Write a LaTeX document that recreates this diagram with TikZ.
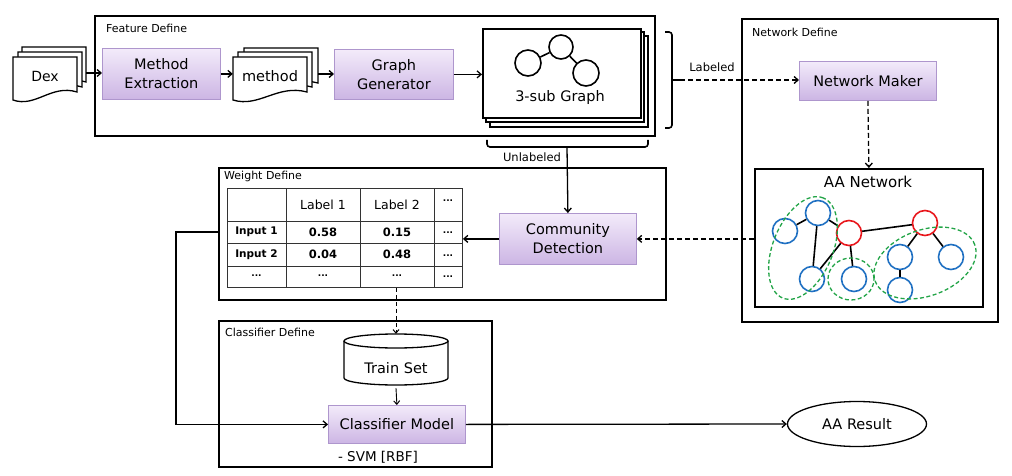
\documentclass[tikz,border=0pt]{standalone}
\usepackage{fontspec}
\setmainfont{DejaVu Sans}
\usetikzlibrary{arrows.meta,shapes.geometric,calc}
\definecolor{ptop}{HTML}{F3EBFA}
\definecolor{pbot}{HTML}{CCB5E4}
\definecolor{pbrd}{HTML}{AE96CD}
\definecolor{nblue}{HTML}{1F70C2}
\definecolor{nred}{HTML}{E8161B}
\definecolor{ngreen}{HTML}{22A447}
\definecolor{tline}{HTML}{333333}
\newcommand\myfs[2]{\fontsize{#1}{#2}\selectfont}
\newcommand\mydoc[4]{%
  \filldraw[fill=white, line width=1.3pt] (#1,#2) -- ({#1+#3},#2) -- ({#1+#3},{#2+#4-8})
    .. controls ({#1+0.6*#3},{#2+#4-16}) and ({#1+0.35*#3},{#2+#4+8}) .. (#1,{#2+#4}) -- cycle;}
\begin{document}
\begin{tikzpicture}[x=1pt,y=-1pt,
  frame/.style={draw, line width=1.8pt, anchor=north west, inner sep=0pt},
  pbox/.style={draw=pbrd, line width=0.8pt, top color=ptop, bottom color=pbot, anchor=north west,
     inner sep=0pt, align=center, font=\myfs{14.5}{19}},
  sect/.style={anchor=west, font=\myfs{11}{13}, inner sep=0pt},
  lbl/.style={font=\myfs{11.5}{13}, inner sep=0pt},
  arr/.style={-{Straight Barb[length=4pt,width=7pt,line width=1.3pt]}, line width=1.3pt},
  tarr/.style={-{Straight Barb[length=3.5pt,width=6pt,line width=1pt]}, line width=0.9pt},
  darr/.style={arr, dash pattern=on 5pt off 3pt},
  nb/.style={circle, draw=nblue, line width=1.6pt, minimum size=25pt, inner sep=0pt},
  nr/.style={nb, draw=nred},
  nedge/.style={line width=1.6pt},
  gell/.style={draw=ngreen, line width=1.3pt, dash pattern=on 4pt off 2.5pt},
  hd/.style={font=\myfs{12.5}{14}, inner sep=0pt},
  rh/.style={font=\bfseries\myfs{10.5}{12}, inner sep=0pt},
  num/.style={font=\bfseries\myfs{11.5}{13}, inner sep=0pt},
  dts/.style={font=\bfseries\myfs{9}{10}, inner sep=0pt}
]
\useasboundingbox (0,0) rectangle (1012,476);

% ---------- frames ----------
\node[frame, minimum width=560pt, minimum height=120pt] (fdef) at (94,15) {};
\node[frame, minimum width=256pt, minimum height=303pt] (ndef) at (741,18) {};
\node[frame, minimum width=447pt, minimum height=132pt] (wdef) at (218,167) {};
\node[frame, minimum width=273pt, minimum height=146pt] (cdef) at (218,320) {};
\node[sect] (fdl) at (106,28) {Feature Define};
\node[sect] (ndl) at (752,32) {Network Define};
\node[sect] (wdl) at (224,176) {Weight Define};
\node[sect] (cdl) at (225,332) {Classifier Define};

% ---------- Dex documents ----------
\mydoc{22}{47}{64}{43}
\mydoc{18}{52}{64}{43}
\mydoc{13}{57}{64}{43}
\node[minimum width=64pt, minimum height=36pt, inner sep=0pt, font=\myfs{14}{16}] (dex) at (45,76) {Dex};
\coordinate (dexR) at (86,73);

% ---------- method documents ----------
\mydoc{244}{48}{74}{43}
\mydoc{238}{52}{74}{43}
\mydoc{233}{57}{74}{43}
\node[minimum width=74pt, minimum height=36pt, inner sep=0pt, font=\myfs{14.5}{16}] (mth) at (270,76) {method};
\coordinate (mthR) at (318,74);

% ---------- purple boxes ----------
\node[pbox, minimum width=118pt, minimum height=51pt] (me) at (102,48) {Method\\Extraction};
\node[pbox, minimum width=119pt, minimum height=50pt] (gg) at (334,49) {Graph\\Generator};
\node[pbox, minimum width=137pt, minimum height=39pt] (nm) at (799,61) {Network Maker};
\node[pbox, minimum width=137pt, minimum height=51pt] (cd) at (499,213) {Community\\Detection};
\node[pbox, minimum width=137pt, minimum height=38pt] (cm) at (328,405) {Classifier Model};

% ---------- 3-sub graph stack ----------
\draw[line width=1.6pt, fill=white] (490,36) rectangle (648,127);
\draw[line width=1.6pt, fill=white] (486,32) rectangle (644,122);
\node[draw, fill=white, line width=1.6pt, anchor=north west, minimum width=158pt, minimum height=89pt, inner sep=0pt] (sg) at (482,28) {};
\node[circle, draw, line width=1.6pt, minimum size=26pt, inner sep=0pt] (g1) at (528,63) {};
\node[circle, draw, line width=1.6pt, minimum size=24pt, inner sep=0pt] (g2) at (561,47) {};
\node[circle, draw, line width=1.6pt, minimum size=26pt, inner sep=0pt] (g3) at (586,73) {};
\draw[line width=1.6pt] (g1) -- (g2) -- (g3);
\node[font=\myfs{14.5}{16}, inner sep=0pt] (sgt) at (560,98) {3-sub Graph};

% ---------- braces ----------
\draw[line width=1.6pt, rounded corners=3pt] (665,32) -- (672,32) -- (672,128) -- (665,128);
\coordinate (lab) at (672,80);
\draw[line width=1.6pt, rounded corners=3pt] (487,140) -- (487,147) -- (648,147) -- (648,140);
\coordinate (unl) at (567,147);
\node[lbl] (labt) at (712,67) {Labeled};
\node[lbl] (unlt) at (532,157) {Unlabeled};

% ---------- AA network ----------
\node[frame, minimum width=228pt, minimum height=138pt] (aanet) at (754,168) {};
\node[font=\myfs{15}{17}, inner sep=0pt] (aat) at (868,182) {AA Network};
\node[nb] (b1) at (785,231) {};
\node[nb] (b2) at (818,213) {};
\node[nr] (r1) at (849,233) {};
\node[nr] (r2) at (925,223) {};
\node[nb] (b3) at (812,279) {};
\node[nb] (b4) at (854,279) {};
\node[nb] (b5) at (900,257) {};
\node[nb] (b6) at (900,290) {};
\node[nb] (b7) at (951,257) {};
\draw[nedge] (b1) -- (b2);
\draw[nedge] (b2) -- (r1);
\draw[nedge] (b2) -- (b3);
\draw[nedge] (b3) -- (r1);
\draw[nedge] (r1) -- (b4);
\draw[nedge] (r1) -- (r2);
\draw[nedge] (r2) -- (b5);
\draw[nedge] (r2) -- (b7);
\draw[nedge] (b5) -- (b6);
\draw[gell, rotate around={68:(803,248)}] (803,248) ellipse[x radius=54pt, y radius=30pt];
\draw[gell] (851,279) ellipse[x radius=23pt, y radius=21pt];
\draw[gell, rotate around={20:(925,263)}] (925,263) ellipse[x radius=53pt, y radius=33pt];

% ---------- table ----------
\node[draw=tline, line width=0.9pt, anchor=north west, minimum width=235pt, minimum height=99pt, inner sep=0pt] (tbl) at (227,188) {};
\draw[tline, line width=0.9pt] (286,188) -- (286,287) (360,188) -- (360,287) (434,188) -- (434,287);
\draw[tline, line width=0.9pt] (227,221) -- (462,221) (227,243) -- (462,243) (227,266) -- (462,266);
\node[hd] (h1) at (323,205) {Label 1};
\node[hd] (h2) at (397,205) {Label 2};
\node[dts] (h3) at (448,201) {...};
\node[rh] (i1) at (256.5,232) {Input 1};
\node[rh] (i2) at (256.5,254.5) {Input 2};
\node[num] (v11) at (323,232) {0.58};
\node[num] (v12) at (397,232) {0.15};
\node[num] (v21) at (323,254.5) {0.04};
\node[num] (v22) at (397,254.5) {0.48};
\node[dts] (d13) at (448,233) {...};
\node[dts] (d23) at (448,256) {...};
\node[dts] (d30) at (256.5,276) {...};
\node[dts] (d31) at (323,276) {...};
\node[dts] (d32) at (397,276) {...};
\node[dts] (d33) at (448,277) {...};

% ---------- train set cylinder ----------
\node[minimum width=104pt, minimum height=54pt, inner sep=0pt] (ts) at (396,361) {};
\draw[line width=1.3pt, fill=white] (344,341) -- (344,378) arc[start angle=180, end angle=360, x radius=52pt, y radius=7pt] -- (448,341);
\draw[line width=1.3pt] (396,341) ellipse[x radius=52pt, y radius=7pt];
\node[font=\myfs{14.5}{16}, inner sep=0pt] (tst) at (396,368) {Train Set};
\node[font=\myfs{13.5}{15}, inner sep=0pt] (svm) at (378,457) {- SVM [RBF]};

% ---------- result ----------
\node[ellipse, draw, line width=1.3pt, minimum width=139pt, minimum height=45pt, inner sep=0pt, font=\myfs{14.5}{16}] (aar) at (857,424) {AA Result};

% ---------- connectors ----------
\draw[arr] (dexR) -- (dexR -| me.west);
\draw[arr] (me.east) -- (me.east -| mth.west);
\draw[arr] (mthR) -- (mthR -| gg.west);
\draw[arr] (gg.east) -- (gg.east -| sg.west);
\draw[line width=1.6pt] (lab) -- ++(8,0);
\draw[darr] ($(lab)+(8,0)$) -- (lab -| nm.west);
\draw[darr] (nm.south) -- (aanet.north);
\draw[arr] (unl) -- (cd.north);
\draw[darr] (aanet.west |- cd.east) -- (cd.east);
\draw[arr] (cd.west) -- (cd.west -| tbl.east);
\draw[tarr, dash pattern=on 4pt off 3pt] (tbl.south -| ts) -- (ts.north);
\draw[tarr] (ts.south) -- (cm.north);
\draw[arr] (wdef.west |- i1) -- ++(-42,0) |- (cm.west);
\draw[arr] (cm.east) -- (aar.west);
\end{tikzpicture}
\end{document}
